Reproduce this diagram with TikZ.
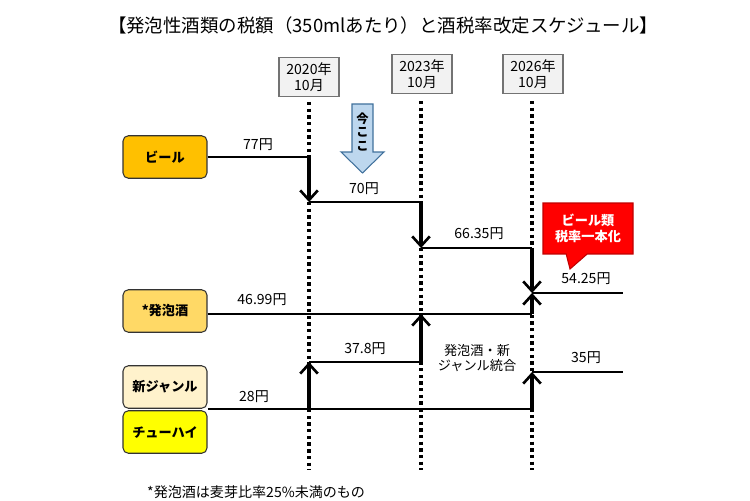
\documentclass[tikz,border=0pt]{standalone}
\usepackage{fontspec}
\setmainfont{Noto Sans CJK JP}
\usetikzlibrary{arrows.meta,positioning,shapes.callouts}
\definecolor{beerc}{HTML}{FFC000}
\definecolor{happoc}{HTML}{FFD966}
\definecolor{shinc}{HTML}{FFF2CC}
\definecolor{chuc}{HTML}{FFFF00}
\definecolor{nowc}{HTML}{BDD7EE}
\definecolor{nowd}{HTML}{41719C}
\definecolor{calc}{HTML}{FF0000}
\definecolor{cald}{HTML}{C00000}

\begin{document}
\begin{tikzpicture}[x=0.02cm, y=-0.02cm,
    cat/.style = {draw=black!80, rounded corners=3pt, line width=0.6pt, minimum width=1.68cm, minimum height=0.85cm, inner sep=1pt, font=\fontsize{7.5}{9}\selectfont\bfseries},
    datebox/.style = {draw=black!55, fill=black!5, line width=0.6pt, minimum width=1.2cm, minimum height=0.78cm, align=center, inner sep=1pt, font=\fontsize{8}{9}\selectfont},
    price/.style = {line width=1.4pt},
    jump/.style = {line width=1.8pt, -{Straight Barb[length=5.5pt,width=10pt,line width=1.5pt]}},
    dotline/.style = {line width=1.9pt, dash pattern=on 1.9pt off 1.9pt},
    lbl/.style = {font=\fontsize{8}{9}\selectfont},
    note/.style = {align=center, font=\fontsize{7.5}{9}\selectfont}]
\useasboundingbox (0,0) rectangle (750,500);

% title
\node[font=\fontsize{10.5}{12}\selectfont] (title) at (383,25) {【発泡性酒類の税額（350mlあたり）と酒税率改定スケジュール】};

% dates
\node[datebox] (d20) at (309,77) {2020年\\10月};
\node[datebox] (d23) at (422,74) {2023年\\10月};
\node[datebox] (d26) at (533,74) {2026年\\10月};
\coordinate (g20) at (309,470);
\coordinate (g23) at (421,470);
\coordinate (g26) at (532,470);
\draw[dotline] (d20.south |- 0,102) -- (g20);
\draw[dotline] (d23.south -| g23) ++(0,-4pt) -- (g23);
\draw[dotline] (d26.south -| g26) ++(0,-4pt) -- (g26);

% categories
\node[cat, fill=beerc] (beer) at (165,157) {ビール};
\node[cat, fill=happoc] (happo) at (165,311) {*発泡酒};
\node[cat, fill=shinc] (shin) at (165,387) {新ジャンル};
\node[cat, fill=chuc] (chu) at (165,432) {チューハイ};

% price levels
\coordinate (l70) at (0,202);
\coordinate (l66) at (0,248);
\coordinate (l54) at (0,293);
\coordinate (l47) at (0,314);
\coordinate (l37) at (0,362);
\coordinate (l35) at (0,372);
\coordinate (l28) at (0,409);
\coordinate (rend) at (623,0);

% beer
\draw[price] (beer.east) -- (beer.east -| g20);
\draw[jump] (beer.east -| g20) -- (l70 -| g20);
\draw[price] (l70 -| g20) -- (l70 -| g23);
\draw[jump] (l70 -| g23) -- (l66 -| g23);
\draw[price] (l66 -| g23) -- (l66 -| g26);
\draw[jump] (l66 -| g26) -- (l54 -| g26);
\draw[price] (l54 -| g26) -- (l54 -| rend);

% happoshu
\draw[price] (l47 -| happo.east) -- (l47 -| g26);
\draw[jump] (l47 -| g26) -- (l54 -| g26);

% shin genre / chuhai
\draw[price] (l28 -| shin.east) -- (l28 -| g26);
\draw[jump] (l28 -| g20) -- (l37 -| g20);
\draw[price] (l37 -| g20) -- (l37 -| g23);
\draw[jump] (l37 -| g23) -- (l47 -| g23);
\draw[jump] (l28 -| g26) -- (l35 -| g26);
\draw[price] (l35 -| g26) -- (l35 -| rend);

% labels
\node[lbl] (t77) at (258,145) {77円};
\node[lbl] (t70) at (364,189) {70円};
\node[lbl] (t66) at (479,234) {66.35円};
\node[lbl] (t54) at (586,279) {54.25円};
\node[lbl] (t47) at (262,300) {46.99円};
\node[lbl] (t37) at (365,349) {37.8円};
\node[lbl] (t28) at (254,397) {28円};
\node[lbl] (t35) at (586,358) {35円};
\node[note] (merge) at (477,358) {発泡酒・新\\ジャンル統合};

% now
\draw[draw=nowd, fill=nowc, line width=0.6pt] (352,104) -- (373,104) -- (373,152) -- (384,152) -- (362.5,173) -- (341,152) -- (352,152) -- cycle;
\node[align=center, inner sep=0pt, font=\fontsize{7}{7.5}\selectfont\bfseries] (now) at (362.5,132) {今\\こ\\こ};

% callout
\node[rectangle callout, draw=cald, fill=calc, line width=0.6pt, minimum width=1.8cm, minimum height=1.02cm, align=center, text=white, callout absolute pointer={(570,269)}, callout pointer width=0.42cm, font=\fontsize{7.5}{9}\selectfont\bfseries] (unify) at (588,228.5) {ビール類\\税率一本化};

% footnote
\node[anchor=west, font=\fontsize{8}{9}\selectfont] (foot) at (141,492) {*発泡酒は麦芽比率25\%未満のもの};
\end{tikzpicture}
\end{document}
